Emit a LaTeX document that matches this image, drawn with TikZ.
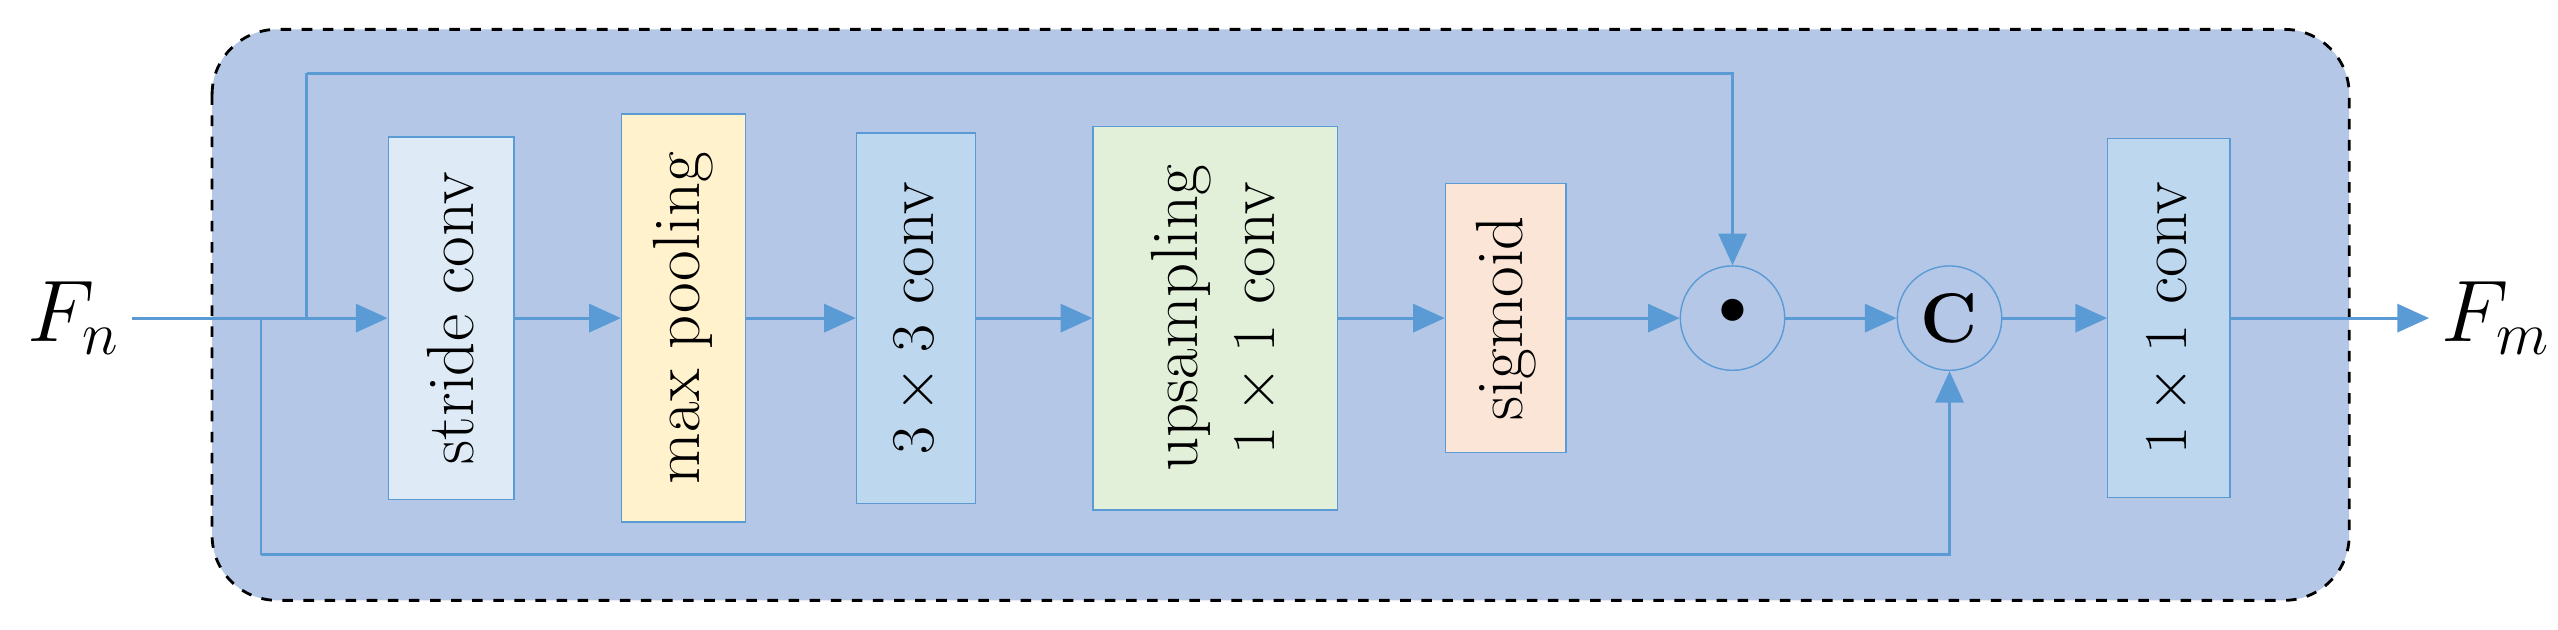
\documentclass[tikz,border=0pt]{standalone}
\usetikzlibrary{arrows.meta}
\begin{document}
\definecolor{bg}{HTML}{B4C7E7}
\definecolor{ln}{HTML}{5B9BD5}
\definecolor{cy}{HTML}{FFF2CC}
\definecolor{cg}{HTML}{E2F0D9}
\definecolor{co}{HTML}{FBE5D6}
\definecolor{cb}{HTML}{DEEBF7}
\definecolor{cm}{HTML}{BDD7EE}
\begin{tikzpicture}[x=0.016314cm,y=-0.016314cm,
  blk/.style={draw=ln,rotate=90,inner sep=2pt,font=\fontsize{19}{22}\selectfont,align=center},
  circ/.style={draw=ln,circle,minimum size=1.044cm,inner sep=0pt,fill=bg},
  arr/.style={draw=ln,line width=0.8pt,-{Triangle[length=9pt,width=8pt]}},
  ln/.style={draw=ln,line width=0.8pt}]
\useasboundingbox (0,0) rectangle (1568,386);
\draw[fill=bg,dashed,line width=0.8pt,rounded corners=0.65cm] (130,18) rectangle (1440,368);
\node (Fn) at (45,195) {\fontsize{26}{30}\selectfont $F_n$};
\node[blk,fill=cb,minimum width=3.622cm,minimum height=1.256cm] (s) at (276.5,195) {stride conv};
\node[blk,fill=cy,minimum width=4.079cm,minimum height=1.240cm] (mp) at (419,195) {max pooling};
\node[blk,fill=cm,minimum width=3.703cm,minimum height=1.191cm] (c3) at (561.5,195) {$3\times3$ conv};
\node[blk,fill=cg,minimum width=3.834cm,minimum height=2.447cm] (up) at (745,195) {upsampling\\$1\times1$ conv};
\node[blk,fill=co,minimum width=2.692cm,minimum height=1.207cm] (sg) at (923,195) {sigmoid};
\node[circ] (dot) at (1062,195) {\fontsize{28}{30}\selectfont\textbullet};
\node[circ] (cat) at (1195,195) {\fontsize{20}{24}\selectfont\textbf{C}};
\node[blk,fill=cm,minimum width=3.589cm,minimum height=1.224cm] (c1) at (1329.5,195) {$1\times1$ conv};
\node (Fm) at (1530,195) {\fontsize{26}{30}\selectfont $F_m$};
\coordinate (j1) at (160,195);
\coordinate (j2) at (188,195);
\coordinate (t) at (188,45);
\coordinate (b) at (160,340);
\path[arr] (Fn) -- (s);
\path[arr] (s) -- (mp);
\path[arr] (mp) -- (c3);
\path[arr] (c3) -- (up);
\path[arr] (up) -- (sg);
\path[arr] (sg) -- (dot);
\path[arr] (dot) -- (cat);
\path[arr] (cat) -- (c1);
\path[arr] (c1) -- (Fm);
\path[ln] (j2) -- (t);
\path[arr] (t) -| (dot);
\path[ln] (j1) -- (b);
\path[arr] (b) -| (cat);
\end{tikzpicture}
\end{document}
